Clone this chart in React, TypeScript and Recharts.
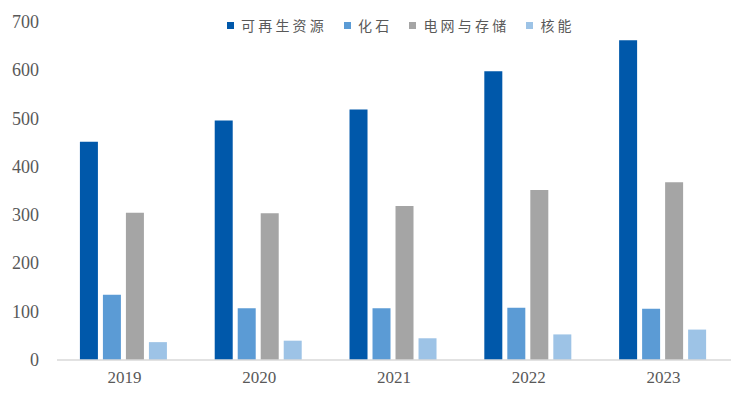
import React from 'react';
import { BarChart, Bar, XAxis, YAxis } from 'recharts';

const years = ['2019', '2020', '2021', '2022', '2023'];
const renewables = [452, 496, 519, 598, 662];
const fossil = [135, 107, 107, 108, 106];
const gridStorage = [305, 304, 319, 352, 368];
const nuclear = [37, 40, 45, 53, 63];
const yTicks = [0, 100, 200, 300, 400, 500, 600, 700];

const series = [
  { key: 'renewables', name: '可再生资源', color: '#0058AA' },
  { key: 'fossil', name: '化石', color: '#5B9BD5' },
  { key: 'grid', name: '电网与存储', color: '#A5A5A5' },
  { key: 'nuclear', name: '核能', color: '#9DC3E6' },
];

const data = years.map((y, i) => ({
  year: y,
  renewables: renewables[i],
  fossil: fossil[i],
  grid: gridStorage[i],
  nuclear: nuclear[i],
}));

const serif = '"Liberation Serif", "Times New Roman", serif';

const XTick = (props: any) => {
  const { x, y, payload } = props;
  return (
    <text x={x} y={y + 21} textAnchor="middle" style={{ fontFamily: serif, fontSize: 17, fill: '#595959' }}>
      {payload.value}
    </text>
  );
};

const YTick = (props: any) => {
  const { x, y, payload } = props;
  return (
    <text x={x - 16} y={y + 6} textAnchor="end" style={{ fontFamily: serif, fontSize: 18, fill: '#595959' }}>
      {payload.value}
    </text>
  );
};

export default function App() {
  return (
    <div style={{ position: 'absolute', left: 0, top: 0, width: 747, height: 399, background: '#fff' }}>
      <BarChart
        width={747}
        height={399}
        data={data}
        margin={{ top: 22, right: 16, bottom: 0, left: 0 }}
        barCategoryGap="17%"
        barGap={5}
      >
        <XAxis
          dataKey="year"
          axisLine={{ stroke: '#D9D9D9', strokeWidth: 1.5 }}
          tickLine={false}
          tickSize={0}
          tick={<XTick />}
          height={39}
        />
        <YAxis
          domain={[0, 700]}
          ticks={yTicks}
          axisLine={false}
          tickLine={false}
          tickSize={0}
          tick={<YTick />}
          width={57}
          interval={0}
        />
        {series.map((s) => (
          <Bar key={s.key} dataKey={s.key} name={s.name} fill={s.color} isAnimationActive={false} />
        ))}
      </BarChart>
      <div
        style={{
          position: 'absolute',
          left: 227,
          top: 15,
          display: 'flex',
          alignItems: 'center',
          fontFamily: '"Noto Sans CJK SC", sans-serif',
          fontSize: 14,
          color: '#595959',
          whiteSpace: 'nowrap',
        }}
      >
        {series.map((s) => (
          <div key={s.key} style={{ display: 'flex', alignItems: 'center', marginRight: 17 }}>
            <span style={{ display: 'inline-block', width: 7, height: 7, background: s.color, marginRight: 7 }} />
            <span style={{ letterSpacing: 3.2, lineHeight: '20px' }}>{s.name}</span>
          </div>
        ))}
      </div>
    </div>
  );
}
